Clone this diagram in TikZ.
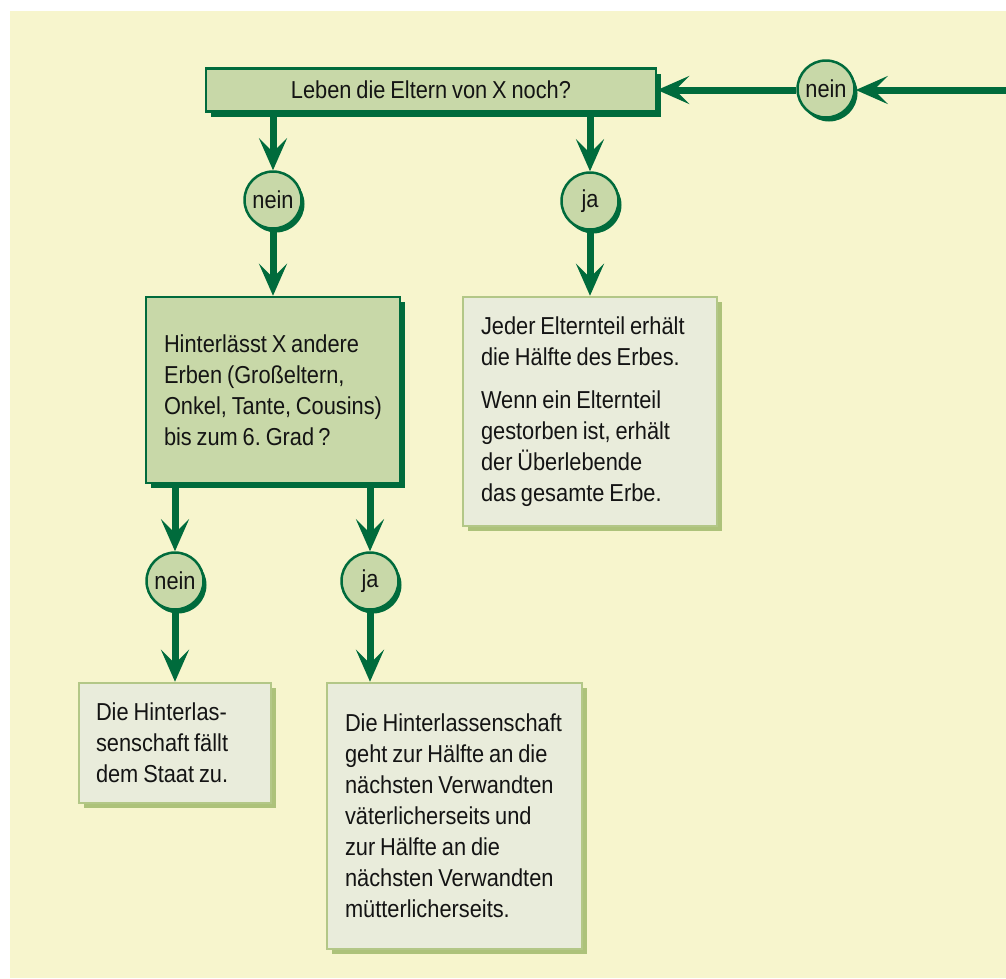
\documentclass[tikz,border=0pt]{standalone}
\usepackage{fontspec}
\setmainfont[FakeStretch=0.89,WordSpace=0.8]{Liberation Sans}
\usetikzlibrary{arrows.meta,shadows}
\definecolor{bg}{HTML}{F7F5CD}
\definecolor{dkg}{HTML}{006B3C}
\definecolor{ltg}{HTML}{C8D8A8}
\definecolor{pale}{HTML}{E9ECDB}
\definecolor{paleb}{HTML}{B3C787}
\definecolor{pales}{HTML}{ADC27A}
\definecolor{txt}{HTML}{141414}
\frenchspacing
\begin{document}
\begin{tikzpicture}[x=1pt,y=-1pt,
 every node/.style={font=\fontsize{24.5}{31}\selectfont, text=txt},
 qbox/.style={rectangle, draw=dkg, line width=2.5pt, fill=ltg,
   drop shadow={shadow xshift=5pt,shadow yshift=-5pt,fill=dkg,opacity=1}},
 abox/.style={rectangle, draw=paleb, line width=2.5pt, fill=pale,
   drop shadow={shadow xshift=5pt,shadow yshift=-5pt,fill=pales,opacity=1}},
 para/.style={align=flush left, inner xsep=0pt},
 dot/.style={circle, draw=dkg, line width=2.5pt, fill=ltg, minimum size=57pt, inner sep=0pt,
   drop shadow={shadow xshift=3pt,shadow yshift=-4pt,fill=dkg,opacity=1}},
 conn/.style={draw=dkg, line width=7pt, -{Stealth[length=32pt,width=28pt,inset=14pt]}}]
\useasboundingbox (0,0) rectangle (1006,978);
\fill[white] (0,0) rectangle (1006,978);
\fill[bg] (10,11) rectangle (1006,978);

% nodes
\node[qbox, minimum width=450pt, minimum height=43pt] (q1) at (431,90) {Leben die Eltern von X noch?};
\node[dot] (c1) at (826,89) {nein};
\node[dot] (c2) at (273,200) {nein};
\node[dot] (c3) at (590,201) {ja};
\node[qbox, para, minimum width=254pt, minimum height=186pt, text width=218pt] (q2) at (273,390)
  {Hinterlässt X andere\\Erben (Großeltern,\\Onkel, Tante, Cousins)\\bis zum 6. Grad\,?};
\node[abox, para, minimum width=254pt, minimum height=229pt, text width=218pt] (a1) at (590,411.5)
  {Jeder Elternteil erhält\\die Hälfte des Erbes.\\[12pt]Wenn ein Elternteil\\gestorben ist, erhält\\der Überlebende\\das gesamte Erbe.};
\node[dot] (c4) at (175,581) {nein};
\node[dot] (c5) at (370,581) {ja};
\node[abox, para, minimum width=192pt, minimum height=120pt, text width=158pt] (a2) at (175,743)
  {Die Hinterlas-\\senschaft fällt\\dem Staat zu.};
\node[abox, para, minimum width=255pt, minimum height=266pt, text width=219pt] (a3) at (454.5,816)
  {Die Hinterlassenschaft\\geht zur Hälfte an die\\nächsten Verwandten\\väterlicherseits und\\zur Hälfte an die\\nächsten Verwandten\\mütterlicherseits.};
\coordinate (start) at (1006,90);

% connectors
\draw[conn] (start) -- (start -| c1.east);
\draw[conn] (c1.west |- q1) -- (q1);
\draw[conn] (q1.south -| c2) -- (c2);
\draw[conn] (c2) -- (c2 |- q2.north);
\draw[conn] (q1.south -| c3) -- (c3);
\draw[conn] (c3) -- (a1);
\draw[conn] (q2.south -| c4) -- (c4);
\draw[conn] (c4) -- (a2);
\draw[conn] (q2.south -| c5) -- (c5);
\draw[conn] (c5) -- (c5 |- a3.north);
\end{tikzpicture}
\end{document}
